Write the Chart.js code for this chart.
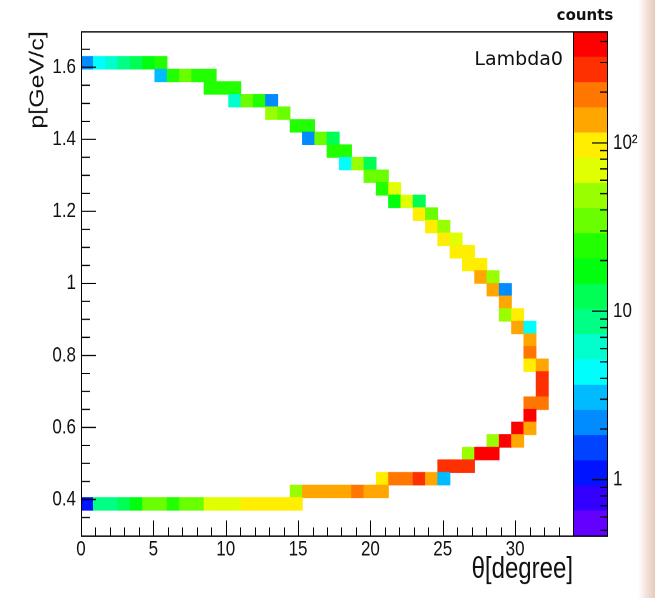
<!DOCTYPE html>
<html>
<head>
<meta charset="utf-8">
<script src="https://cdn.jsdelivr.net/npm/chart.js@4.4.1/dist/chart.umd.min.js"></script>
<style>
    html, body { margin: 0; padding: 0; }
    body {
        width: 655px; height: 598px; overflow: hidden;
        background: linear-gradient(to right, #ffffff 0px, #ffffff 638px, #f3e0d9 647px, #e8c9bd 655px);
    }
    #wrap { width: 655px; height: 478px; transform-origin: 0 0; }
</style>
</head>
<body>
<div id="wrap"><canvas id="hist" width="655" height="478"></canvas></div>
<script>
// axis ticks
const thetaTicks = [0, 5, 10, 15, 20, 25, 30];
const pTicks = [0.4, 0.6, 0.8, 1, 1.2, 1.4, 1.6];
const pTickLabels = ['0.4', '0.6', '0.8', '1', '1.2', '1.4', '1.6'];
const countTicks = [1, 10, 100];
const countTickLabels = ['1', '10', '10²'];
const countMinorTicks = [0.5, 0.6, 0.7, 0.8, 0.9, 2, 3, 4, 5, 6, 7, 8, 9,
    20, 30, 40, 50, 60, 70, 80, 90, 200, 300, 400];

// histogram definition (40 x 40 bins)
const thetaRange = [0, 34];
const pRange = [0.3, 1.7];
const thetaBinWidth = 0.85;
const pBinWidth = 0.035;
const countRange = [0.466, 460];
const nLevels = 20;

// filled bins: bin centre in theta, bin centre in p, entries
const binTheta = [
    0.425, 1.275, 2.125, 2.975, 3.825, 4.675, 5.525,
    5.525, 6.375, 7.225, 8.075, 8.925,
    8.925, 9.775, 10.625,
    10.625, 11.475, 12.325, 13.175,
    13.175, 14.025,
    14.875, 15.725,
    15.725, 16.575, 17.425,
    17.425, 18.275,
    18.275, 19.125, 19.975,
    19.975, 20.825,
    20.825, 21.675,
    21.675, 22.525, 23.375,
    23.375, 24.225,
    24.225, 25.075,
    25.075, 25.925,
    25.925, 26.775,
    26.775, 27.625,
    27.625, 28.475,
    28.475, 29.325,
    29.325,
    29.325, 30.175,
    30.175, 31.025,
    31.025,
    31.025,
    31.025, 31.875,
    31.875,
    31.875,
    31.025, 31.875,
    31.025,
    30.175, 31.025,
    28.475, 29.325, 30.175,
    26.775, 27.625, 28.475,
    25.075, 25.925, 26.775,
    20.825, 21.675, 22.525, 23.375, 24.225, 25.075,
    14.875, 15.725, 16.575, 17.425, 18.275, 19.125, 19.975, 20.825,
    0.425, 1.275, 2.125, 2.975, 3.825, 4.675, 5.525, 6.375, 7.225,
    8.075, 8.925, 9.775, 10.625, 11.475, 12.325, 13.175, 14.025, 14.875
];
const binP = [
    1.6125, 1.6125, 1.6125, 1.6125, 1.6125, 1.6125, 1.6125,
    1.5775, 1.5775, 1.5775, 1.5775, 1.5775,
    1.5425, 1.5425, 1.5425,
    1.5075, 1.5075, 1.5075, 1.5075,
    1.4725, 1.4725,
    1.4375, 1.4375,
    1.4025, 1.4025, 1.4025,
    1.3675, 1.3675,
    1.3325, 1.3325, 1.3325,
    1.2975, 1.2975,
    1.2625, 1.2625,
    1.2275, 1.2275, 1.2275,
    1.1925, 1.1925,
    1.1575, 1.1575,
    1.1225, 1.1225,
    1.0875, 1.0875,
    1.0525, 1.0525,
    1.0175, 1.0175,
    0.9825, 0.9825,
    0.9475,
    0.9125, 0.9125,
    0.8775, 0.8775,
    0.8425,
    0.8075,
    0.7725, 0.7725,
    0.7375,
    0.7025,
    0.6675, 0.6675,
    0.6325,
    0.5975, 0.5975,
    0.5625, 0.5625, 0.5625,
    0.5275, 0.5275, 0.5275,
    0.4925, 0.4925, 0.4925,
    0.4575, 0.4575, 0.4575, 0.4575, 0.4575, 0.4575,
    0.4225, 0.4225, 0.4225, 0.4225, 0.4225, 0.4225, 0.4225, 0.4225,
    0.3875, 0.3875, 0.3875, 0.3875, 0.3875, 0.3875, 0.3875, 0.3875, 0.3875,
    0.3875, 0.3875, 0.3875, 0.3875, 0.3875, 0.3875, 0.3875, 0.3875, 0.3875
];
const binCounts = [
    2, 5, 6, 9, 13, 16, 24,
    3, 23, 33, 25, 23,
    22, 23, 25,
    6, 32, 26, 2,
    45, 32,
    23, 25,
    2, 36, 13,
    24, 22,
    5, 44, 13,
    32, 38,
    24, 65,
    18, 65, 13,
    92, 32,
    105, 50,
    95, 66,
    90, 88,
    98, 86,
    135, 50,
    140, 2,
    135,
    52, 95,
    145, 5,
    140,
    185,
    100, 145,
    270,
    280,
    200, 210,
    360,
    370, 150,
    52, 350, 150,
    55, 370, 355,
    290, 285, 280,
    98, 180, 185, 290, 150, 3,
    50, 145, 140, 145, 140, 195, 140, 135,
    1, 8, 10, 14, 19, 34, 30, 24, 36,
    38, 62, 68, 76, 88, 95, 100, 100, 92
];

// ROOT "pretty" palette, one colour per contour level
const palette = [
    '#6300ff', '#3300ff', '#0014ff', '#0044ff', '#008cff',
    '#00bbff', '#00fffc', '#00ffcc', '#00ff85', '#00ff55',
    '#00ff0e', '#22ff00', '#69ff00', '#99ff00', '#e0ff00',
    '#ffee00', '#ffa700', '#ff7700', '#ff3000', '#ff0000'
];

const H = 478;
const stretch = 598 / H;   // the original picture is taller than wide
document.getElementById('wrap').style.transform = 'scaleY(' + stretch + ')';

const family = "'Liberation Sans', Arial, Helvetica, sans-serif";
const tickFont = {family: family, size: 17};
const ink = '#111';

const logLo = Math.log10(countRange[0]);
const logHi = Math.log10(countRange[1]);

function colourFor(n) {
    let k = Math.floor((Math.log10(n) - logLo) / (logHi - logLo) * nLevels);
    k = Math.max(0, Math.min(nLevels - 1, k));
    return palette[k];
}

function range(from, to, step) {
    const out = [];
    for (let v = from; v <= to + 1e-9; v += step) out.push(+v.toFixed(4));
    return out;
}

function noPad(s) {
    s.paddingTop = 0;
    s.paddingBottom = 0;
    s.paddingLeft = 0;
    s.paddingRight = 0;
}

// frame, inward ticks, colour bar and the two labels (ROOT style)
const rootFrame = {
    id: 'rootFrame',
    afterDraw(chart) {
        const {ctx, chartArea: a} = chart;
        const x = chart.scales.x, y = chart.scales.y, z = chart.scales.z;
        const v = 1 / stretch; // vertical lengths are stretched later
        ctx.save();

        // colour bar
        const barL = a.right, barR = a.right + 34;
        for (let k = 0; k < nLevels; k++) {
            const lo = Math.pow(10, logLo + (logHi - logLo) * k / nLevels);
            const hi = Math.pow(10, logLo + (logHi - logLo) * (k + 1) / nLevels);
            const top = z.getPixelForValue(hi), bot = z.getPixelForValue(lo);
            ctx.fillStyle = palette[k];
            ctx.fillRect(barL, top, barR - barL, bot - top + 0.3);
        }

        ctx.strokeStyle = '#000';
        ctx.lineWidth = 1;
        ctx.beginPath();
        // x axis ticks
        range(0, 34, 1).forEach(t => {
            const px = Math.round(x.getPixelForValue(t)) + 0.5;
            const len = (t % 5 === 0 ? 15 : 8) * v;
            ctx.moveTo(px, a.bottom);
            ctx.lineTo(px, a.bottom - len);
        });
        // y axis ticks
        range(0.35, 1.65, 0.05).forEach(p => {
            const py = y.getPixelForValue(p);
            const major = pTicks.some(m => Math.abs(m - p) < 1e-6);
            ctx.moveTo(a.left, py);
            ctx.lineTo(a.left + (major ? 15 : 9), py);
        });
        // colour bar ticks
        countTicks.forEach(c => {
            const py = z.getPixelForValue(c);
            ctx.moveTo(barR, py);
            ctx.lineTo(barR - 15, py);
        });
        countMinorTicks.forEach(c => {
            const py = z.getPixelForValue(c);
            ctx.moveTo(barR, py);
            ctx.lineTo(barR - 7, py);
        });
        ctx.stroke();

        ctx.strokeRect(a.left + 0.5, a.top + 0.5, a.right - a.left, a.bottom - a.top);
        ctx.strokeRect(barL + 0.5, a.top + 0.5, barR - barL, a.bottom - a.top);

        // texts drawn un-stretched
        ctx.fillStyle = ink;
        ctx.textBaseline = 'alphabetic';
        ctx.save();
        ctx.translate(563, 52);
        ctx.scale(1, v);
        ctx.textAlign = 'right';
        ctx.font = "19px 'DejaVu Sans', sans-serif";
        ctx.fillText('Lambda0', 0, 0);
        ctx.restore();

        ctx.save();
        ctx.translate(585, 16);
        ctx.scale(1, v);
        ctx.textAlign = 'center';
        ctx.font = "bold 15px 'DejaVu Sans', sans-serif";
        ctx.fillText('counts', 0, 0);
        ctx.restore();

        ctx.restore();
    }
};

new Chart(document.getElementById('hist'), {
    type: 'bar',
    data: {
        datasets: [{
            label: 'Lambda0',
            data: binTheta.map((t, i) => ({x: t, y: [binP[i] - pBinWidth / 2, binP[i] + pBinWidth / 2]})),
            backgroundColor: c => colourFor(binCounts[c.dataIndex]),
            borderWidth: 0,
            barPercentage: 1,
            categoryPercentage: 1
        }]
    },
    options: {
        responsive: false,
        animation: false,
        devicePixelRatio: 2,
        layout: {padding: {top: 25, left: 0, right: 0, bottom: 0}},
        plugins: {legend: {display: false}, tooltip: {enabled: false}},
        scales: {
            x: {
                type: 'linear',
                min: thetaRange[0], max: thetaRange[1],
                offset: false,
                grid: {display: false, drawTicks: false},
                border: {display: false},
                afterBuildTicks: s => { s.ticks = thetaTicks.map(t => ({value: t})); },
                afterFit: s => { s.height = 50; noPad(s); },
                ticks: {padding: 1, font: tickFont, color: ink, maxRotation: 0, autoSkip: false},
                title: {
                    display: true, text: 'θ[degree]', align: 'end', color: ink,
                    font: {family: family, size: 24}, padding: {top: 0, bottom: 8}
                }
            },
            y: {
                type: 'linear',
                min: pRange[0], max: pRange[1],
                beginAtZero: false,
                grid: {display: false, drawTicks: false},
                border: {display: false},
                afterBuildTicks: s => { s.ticks = pTicks.map(p => ({value: p})); },
                afterFit: s => { s.width = 81; noPad(s); },
                ticks: {padding: 5, font: tickFont, color: ink, autoSkip: false,
                    callback: (val, i) => pTickLabels[i]},
                title: {
                    display: true, text: 'p[GeV/c]', align: 'end', color: ink,
                    font: {family: family, size: 20}, padding: {top: 26, bottom: 0}
                }
            },
            z: {
                type: 'logarithmic',
                position: 'right',
                min: countRange[0], max: countRange[1],
                grid: {display: false, drawTicks: false},
                border: {display: false},
                afterBuildTicks: s => { s.ticks = countTicks.map(c => ({value: c})); },
                afterFit: s => { s.width = 82; noPad(s); },
                ticks: {padding: 40, font: tickFont, color: ink, autoSkip: false,
                    callback: (val, i) => countTickLabels[i]}
            }
        }
    },
    plugins: [rootFrame]
});
</script>
</body>
</html>
